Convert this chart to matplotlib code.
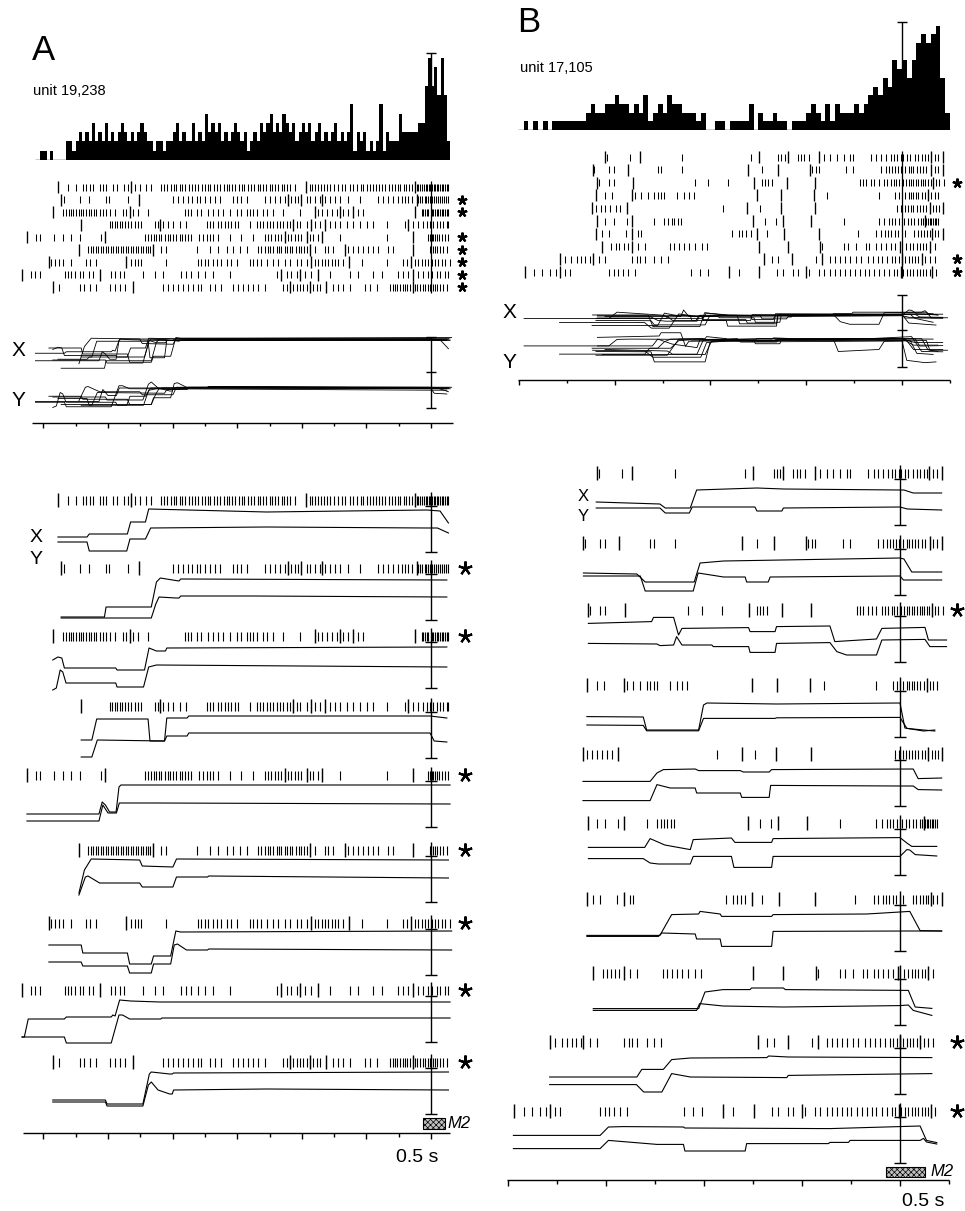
import numpy as np
import matplotlib
matplotlib.use("Agg")
import matplotlib.pyplot as plt
from matplotlib.patches import Rectangle

# ---------------------------------------------------------------------------
# data, panel A (unit 19,238); times in ms relative to M2, eye position in deg
# ---------------------------------------------------------------------------
A_HIST_START = -1.22  # s, left edge of first bin
A_HIST_BIN = 0.01     # s
A_HIST = [0, 1, 1, 0, 1, 0, 0, 0, 0, 2, 2, 1, 2, 3, 2, 3, 2, 4, 2, 3,
          2, 4, 2, 3, 2, 3, 4, 3, 2, 3, 2, 3, 4, 3, 2, 2, 1, 2, 2, 1,
          2, 2, 3, 4, 2, 3, 2, 2, 4, 2, 3, 2, 5, 3, 4, 3, 4, 2, 3, 2,
          3, 4, 3, 2, 3, 1, 2, 3, 2, 4, 3, 4, 5, 3, 4, 3, 5, 4, 3, 4,
          2, 3, 4, 3, 4, 2, 3, 4, 2, 3, 2, 3, 4, 2, 3, 2, 3, 6, 1, 3,
          2, 3, 1, 2, 1, 2, 6, 1, 3, 2, 2, 2, 5, 3, 3, 3, 3, 3, 4, 4,
          8, 11, 8, 10, 7, 11, 7, 2]

A_SPIKES = [
    [-1124, -1098, -1078, -1069, -1057, -1047, -1026, -1016, -1007, -985, -972, -952, -938, -917, -902, -881,
     -866, -835, -826, -818, -806, -797, -789, -778, -770, -761, -748, -740, -731, -722, -709, -700, -690,
     -683, -672, -661, -652, -640, -633, -624, -615, -606, -594, -585, -578, -566, -557, -548, -537, -530,
     -519, -510, -500, -492, -483, -474, -462, -455, -447, -437, -421, -375, -367, -358, -350, -341, -332,
     -323, -313, -300, -289, -276, -265, -252, -240, -229, -218, -210, -199, -190, -181, -170, -160, -151,
     -142, -130, -121, -112, -103, -95, -85, -76, -68, -60, -44, -39, -33, -28, -22, -17, -12, -7, -2, 3, 8,
     13, 18, 23, 28, 33, 38, 44, 49, 54],
    [-1135, -1088, -1059, -1007, -997, -938, -799, -783, -768, -752, -739, -726, -714, -700, -685, -669, -654,
     -613, -600, -587, -571, -515, -499, -483, -468, -452, -432, -421, -411, -385, -375, -360, -344, -329,
     -313, -297, -282, -256, -220, -163, -148, -132, -117, -101, -91, -80, -70, -60, -39, -33, -27, -20, -14,
     -8, -2, 4, 10, 16, 22, 28, 35, 41, 47, 54],
    [-1140, -1129, -1121, -1114, -1107, -1098, -1091, -1083, -1076, -1067, -1059, -1052, -1044, -1036, -1026,
     -1016, -1005, -995, -979, -954, -943, -923, -907, -876, -762, -752, -742, -726, -711, -690, -675, -659,
     -644, -623, -602, -587, -571, -561, -551, -540, -520, -509, -489, -458, -406, -349, -339, -323, -308,
     -292, -272, -256, -225, -210, -29, -24, -18, -13, -8, 2, 7, 13, 18, 23, 28, 33, 38, 44, 49, 54],
    [-995, -987, -979, -972, -964, -956, -948, -938, -928, -917, -907, -897, -855, -845, -830, -814, -799,
     -778, -757, -695, -685, -675, -659, -649, -638, -628, -618, -607, -597, -561, -540, -530, -520, -509,
     -499, -489, -478, -468, -458, -447, -437, -416, -406, -385, -360, -344, -313, -297, -282, -261, -241,
     -220, -199, -179, -137, -80, -55, -39, -24, -13, -3, 7, 18, 28, 38, 49, 54],
    [-1222, -1212, -1166, -1140, -1114, -1088, -1021, -886, -876, -866, -859, -850, -842, -835, -825, -814,
     -807, -799, -788, -778, -770, -762, -752, -742, -718, -706, -695, -685, -675, -659, -623, -587, -551,
     -515, -504, -494, -483, -473, -463, -442, -432, -421, -411, -401, -375, -365, -349, -282, -137, -8, -3,
     2, 7, 13, 18, 26, 33, 44, 54],
    [-1062, -1054, -1047, -1038, -1031, -1023, -1016, -1007, -1000, -992, -985, -976, -969, -961, -954, -945,
     -938, -930, -923, -914, -907, -899, -892, -883, -876, -869, -835, -819, -726, -685, -659, -633, -613,
     -592, -571, -535, -525, -515, -504, -497, -489, -478, -470, -463, -452, -445, -437, -429, -418, -408,
     -401, -394, -385, -360, -329, -318, -303, -256, -241, -225, -210, -194, -179, -163, -132, -117, -3, 5,
     13, 20, 28, 38, 49],
    [-1176, -1165, -1152, -1140, -1114, -1067, -1057, -1036, -928, -917, -907, -897, -819, -721, -711, -700,
     -690, -675, -664, -649, -633, -618, -600, -561, -551, -540, -525, -509, -489, -473, -452, -437, -416,
     -401, -385, -360, -349, -339, -329, -318, -308, -297, -287, -272, -215, -137, -86, -75, -49, -39, -29,
     -18, -8, 2, 13, 23, 33, 44, 59],
    [-1238, -1227, -1212, -1134, -1124, -1114, -1103, -1088, -1078, -1059, -1047, -990, -979, -964, -952,
     -892, -855, -830, -773, -757, -742, -721, -700, -675, -623, -478, -447, -432, -416, -391, -370, -313,
     -251, -225, -179, -153, -101, -86, -70, -39, -24, -8, 2, 18, 28, 44, 54],
    [-1152, -1088, -1073, -1057, -1036, -995, -979, -964, -948, -830, -814, -799, -783, -768, -752, -737,
     -721, -711, -685, -669, -649, -613, -597, -582, -566, -551, -535, -515, -458, -447, -427, -416, -406,
     -396, -385, -365, -354, -344, -303, -287, -272, -251, -204, -189, -168, -127, -119, -112, -104, -96,
     -88, -80, -73, -65, -49, -42, -34, -26, -18, -10, -3, 5, 13, 20, 28, 38, 49],
]
A_EVENTS = [
    [-1155, -928, -387, -49],
    [-1145, -904, -442, -401, -339, -44],
    [-1171, -933, -360, -282, -241, -49],
    [-1083, -840, -427, -370, -329, -70],
    [-1251, -1010, -452, -385, -339, -55],
    [-1090, -861, -375, -267, -57],
    [-1183, -945, -373, -253, -63],
    [-1266, -1026, -463, -406, -349, -57],
    [-1171, -923, -437, -375, -325, -57],
]
A_X = [
    [(-1155, 1.5), (-1065, 1.5), (-1058, 3), (-940, 3), (-930, 9), (-884, 9), (-874, 15.5), (-509, 14),
     (-13, 15), (28, 14.5), (54, 8.5)],
    [(-1145, -4.5), (-1011, -4.5), (-1006, 0.5), (-866, 0.5), (-850, 13), (-838, 15), (-800, 14),
     (-780, 13.5), (-775, 14.5), (49, 14)],
    [(-1171, 8), (-1155, 9.5), (-1143, 9), (-1135, 4), (-976, 4), (-972, 3), (-887, 3), (-873, 14),
     (-850, 12.5), (-822, 12.5), (-818, 14), (49, 14.5)],
    [(-1083, 3), (-1050, 3), (-1035, 13.5), (-876, 13.5), (-870, 2.5), (-825, 2.5), (-818, 14), (-755, 14),
     (-750, 15), (-3, 15), (49, 14)],
    [(-1251, 0.5), (-1028, 0.5), (-1018, 6.5), (-1008, 5), (-995, 1.5), (-975, 1.5), (-966, 14), (-960, 15),
     (59, 15)],
    [(-1090, -1.5), (-1073, 10), (-1052, 15.5), (-902, 15), (-894, 12), (-799, 11.5), (-788, 15.5), (54, 15)],
    [(-1183, 9), (-1083, 9), (-1078, 5), (-940, 5), (-933, -0.5), (-866, -0.5), (-859, 3.5), (-806, 3.5),
     (-790, 16), (-775, 15.5), (64, 16)],
    [(-1266, -3.5), (-1259, -3.5), (-1247, 5.5), (-1135, 5.5), (-1129, 6.5), (-990, 6.5), (-985, 7.5),
     (-978, 7), (-964, 15), (-930, 14.5), (-840, 14), (59, 14)],
    [(-1171, 1), (-1008, 1), (-1003, -1), (-892, -1), (-872, 14), (-866, 15), (-809, 14), (-801, 14),
     (-797, 14.5), (54, 15)],
]
A_Y = [
    [(-1155, -1), (-1065, -1), (-1058, -5.5), (-942, -5.5), (-932, 0.5), (-884, 0.5), (-868, 6), (-509, 6.5),
     (-13, 6), (20, 6), (54, 3.5)],
    [(-1145, -5), (-866, -5), (-852, 2), (-842, 5.5), (-790, 5), (-780, 5), (-775, 6), (-551, 6), (49, 5.5)],
    [(-1171, -7), (-1160, -6), (-1148, 3), (-1140, 2), (-1130, -3.5), (-976, -3.5), (-972, -5.5), (-890, -5.5),
     (-874, 4.5), (-850, 5.5), (49, 4.5)],
    [(-1083, -5.5), (-1050, -5.5), (-1033, 3), (-825, 2.5), (-818, 5), (-755, 5), (-750, 6.5), (-3, 6.5),
     (10, 2.5), (49, 2)],
    [(-1251, -3), (-1028, -3), (-1016, 5), (-1000, 1), (-974, 1), (-965, 6), (-850, 6), (59, 5.5)],
    [(-1090, -2.5), (-1070, 6.5), (-1062, 7), (-1026, 3.5), (-902, 3.5), (-894, 1.5), (-799, 1.5), (-788, 6.5),
     (-692, 6.5), (-688, 7), (54, 6)],
    [(-1183, 0.5), (-1083, 0.5), (-1078, -1.5), (-940, -1.5), (-933, -5), (-866, -5), (-859, -0.5),
     (-806, -0.5), (-795, 9), (-785, 9.5), (-757, 6.5), (-692, 6.5), (-688, 7), (64, 6.5)],
    [(-1266, -3.5), (-1135, -3.5), (-1129, -6.5), (-990, -6.5), (-966, 7.5), (-955, 7.5), (-933, 5.5),
     (-837, 5.5), (-833, 6), (59, 6)],
    [(-1171, 0), (-1008, 0), (-1003, -2), (-892, -2), (-875, 8.5), (-866, 10), (-845, 6), (-809, 4), (-801, 4),
     (-797, 6), (-509, 6.5), (54, 6)],
]
A_STAR = [False, True, True, False, True, True, True, True, True]

# ---------------------------------------------------------------------------
# data, panel B (unit 17,105)
# ---------------------------------------------------------------------------
B_HIST_START = -0.80
B_HIST_BIN = 0.01
B_HIST = [0, 1, 0, 1, 0, 1, 0, 1, 1, 1, 1, 1, 1, 1, 2, 3, 2, 2, 3, 3,
          4, 3, 3, 2, 3, 2, 4, 1, 2, 3, 2, 4, 3, 3, 2, 2, 2, 1, 2, 0,
          0, 1, 1, 0, 1, 1, 1, 1, 3, 0, 2, 1, 1, 2, 1, 1, 0, 1, 1, 1,
          2, 3, 2, 1, 3, 1, 3, 2, 2, 2, 3, 2, 3, 4, 5, 4, 6, 5, 8, 7,
          8, 6, 8, 10, 11, 10, 11, 12, 6, 2]

B_SPIKES = [
    [-615, -568, -459, -316, -258, -252, -245, -218, -211, -204, -194, -163, -150, -136, -122, -109, -102,
     -65, -54, -44, -34, -24, -17, -10, -3, 3, 10, 17, 27, 34, 41, 48, 55, 68, 75],
    [-643, -612, -602, -510, -503, -459, -292, -187, -180, -173, -116, -102, -44, -34, -27, -20, -14, -8, -3,
     1, 7, 14, 19, 24, 31, 37, 44, 51, 68, 75],
    [-632, -612, -602, -432, -405, -364, -292, -286, -279, -272, -88, -82, -75, -65, -58, -48, -37, -31, -24,
     -17, -12, -7, -1, 3, 8, 14, 19, 24, 29, 34, 40, 44, 49, 55, 60, 71, 78, 88],
    [-619, -605, -558, -544, -530, -517, -510, -503, -496, -469, -456, -445, -435, -156, -48, -14, -7, 0, 7,
     14, 19, 24, 29, 34, 41, 48, 61, 68, 75],
    [-639, -629, -619, -609, -598, -588, -374, -296, -10, -3, 1, 7, 12, 18, 24, 31, 37, 44, 51, 65, 71, 78],
    [-619, -602, -575, -517, -496, -488, -481, -475, -468, -461, -286, -264, -122, -48, -37, -27, -20, -14,
     -7, -1, 5, 12, 19, 26, 33, 40, 44, 51, 55, 58, 61, 65, 68, 71, 75],
    [-626, -612, -577, -552, -545, -355, -341, -333, -325, -316, -282, -92, -54, -44, -35, -29, -22, -15, -8,
     -1, 7, 26, 33, 40, 46, 53, 58, 68, 75],
    [-607, -598, -590, -581, -573, -551, -537, -484, -476, -466, -456, -445, -432, -418, -407, -167, -122,
     -112, -95, -75, -68, -54, -44, -34, -24, -14, 1, 8, 17, 24, 31, 37, 44, 51, 68],
    [-704, -690, -679, -670, -661, -651, -632, -619, -564, -554, -547, -537, -517, -503, -488, -272, -258,
     -180, -150, -139, -129, -119, -109, -95, -85, -71, -61, -51, -41, -31, -20, -14, -7, 7, 14, 20, 27, 34,
     48, 58, 68],
    [-768, -751, -734, -722, -704, -694, -612, -602, -593, -583, -571, -558, -441, -422, -405, -340, -262,
     -248, -228, -218, -194, -173, -163, -150, -139, -129, -119, -109, -99, -88, -78, -68, -58, -48, -37,
     -27, -17, -10, 3, 10, 17, 24, 31, 37, 44, 51, 58, 72],
]
B_EVENTS = [
    [-619, -547, -299, -238, -173, 60, 85],
    [-646, -573, -322, -258, -192, 61, 85],
    [-636, -561, -309, -241, -182, 65],
    [-638, -564, -303, -252, -184, 55],
    [-647, -575, -323, -253, -182, 58, 85],
    [-636, -564, -311, -248, -190, 48],
    [-638, -564, -303, -247, -173, 63, 85],
    [-626, -563, -299, -239, -171, -5, 58],
    [-715, -646, -289, -229, -167, 0, 41],
    [-787, -714, -362, -298, -201, -3, 63],
]
B_Y = [
    [(-620, 5.5), (-490, 4.5), (-479, 2.5), (-428, 2.5), (-415, 11.5), (-292, 12.5), (-238, 12), (0, 11.5),
     (8, 11.5), (27, 10), (85, 10)],
    [(-646, 5), (-537, 4.5), (-520, 0.5), (-420, 0.5), (-408, 10), (-360, 11), (0, 12.5), (8, 12), (24, 5.5),
     (85, 5.5)],
    [(-636, 13.3), (-507, 14.2), (-503, 16.3), (-462, 16.3), (-452, 7.5), (-445, 10.8), (-309, 11.2),
     (-306, 9.2), (-255, 9.2), (-252, 11.7), (-143, 12), (-133, 4.2), (-48, 5.5), (-37, 10.8), (51, 11.3),
     (58, 5), (95, 5)],
    [(-639, 4.2), (-524, 4), (-517, -2.5), (-411, -2.5), (-401, 10), (-394, 11), (-252, 10.5), (0, 11),
     (10, -1.5), (48, -3), (71, -2.5)],
    [(-647, 6.3), (-510, 6.3), (-496, 10.5), (-483, 12.2), (-418, 12.5), (-411, 11.7), (-326, 11.7),
     (-320, 11), (-267, 11), (-262, 12.2), (27, 12.5), (37, 7.7), (85, 8)],
    [(-636, 7.8), (-521, 7.8), (-510, 12.2), (-480, 9), (-428, 6.7), (-422, 11.7), (-344, 12.5), (-337, 10.3),
     (-262, 10.3), (-259, 12.2), (0, 12.7), (14, 10), (24, 8.3), (75, 8.3)],
    [(-639, 1.8), (-490, 1.8), (-466, 12.2), (-411, 12.5), (-408, 13.8), (-367, 12.5), (-364, 11.3),
     (-262, 11.3), (-259, 12.2), (-68, 12.5), (20, 13.8), (41, 4.2), (85, 4)],
    [(-626, 2.2), (-411, 2.2), (-398, 10.5), (-361, 11.7), (-306, 11.7), (-303, 12.5), (-238, 12.5),
     (-234, 11.7), (17, 11.3), (31, 3), (65, 2.3)],
    [(-715, 2.5), (-537, 2.5), (-527, 6.3), (-483, 6.3), (-466, 11.2), (-428, 12), (-272, 12.2), (-268, 13),
     (-228, 12.5), (65, 12.2)],
    [(-789, 7.8), (-612, 7.8), (-595, 12), (-565, 12.2), (-442, 12), (-439, 11.5), (-143, 11.2), (41, 12.5),
     (54, 5.3), (75, 4.2)],
]
B_X = [
    [(-620, 2.5), (-490, 2.5), (-479, 0), (-430, 0), (-424, 3), (-296, 3), (-292, 1), (-241, 1), (-238, 2.5),
     (0, 3), (15, 2), (85, 1.5)],
    [(-646, 3.5), (-530, 3.5), (-520, -4), (-422, -4), (-412, 5), (-360, 3), (-316, 3), (-313, 0.5),
     (-269, 0.5), (-265, 3), (0, 3.5), (7, 1.5), (85, 1.5)],
    [(-636, 3.3), (-496, 3), (-490, 2.2), (-462, 2.5), (-456, 6.7), (-445, 2.5), (-384, 2.5), (-381, 1.7),
     (-309, 1.7), (-306, -1.2), (-255, -1.2), (-252, 3.3), (-143, 3.7), (-129, -0.8), (-109, -2.5),
     (-48, -2.5), (-37, 5), (51, 5.3), (61, 1.7), (95, 1.7)],
    [(-639, 0), (-524, -0.2), (-517, -2.9), (-411, -2.9), (-401, 3.3), (-255, 3.3), (-252, 3.6), (0, 3.8),
     (14, -1.7), (48, -2.5), (71, -3)],
    [(-647, -3.3), (-510, -3.3), (-496, 4.7), (-469, 3), (-418, 3), (-415, 0.5), (-326, 0.5), (-323, -1.7),
     (-267, -1.7), (-264, 4.3), (0, 4), (27, 4), (37, 2.2), (85, 2)],
    [(-636, 2.2), (-524, 2.2), (-510, 0), (-493, -0.5), (-428, -0.5), (-422, 3.3), (-344, 3.3), (-339, -2.2),
     (-262, -2.2), (-259, 3.3), (0, 3.3), (14, 6.7), (20, 6.5), (31, 4.2), (75, 3.5)],
    [(-639, 1.3), (-493, 1.3), (-486, 3), (-418, 2.5), (-415, 0), (-367, 0), (-364, -3.7), (-262, -3.7),
     (-259, 3.8), (20, 4), (41, 4), (85, 4)],
    [(-626, 1.3), (-415, 1.3), (-409, 4.7), (-361, 3.5), (-238, 3), (0, 3.7), (17, 4), (27, 1.3), (65, -1.2)],
    [(-715, -1.3), (-538, -1.3), (-523, -5), (-486, -5), (-466, 4.2), (-428, 2.5), (-231, 2.2), (-228, 3.3),
     (65, 4.2)],
    [(-789, 1.2), (-612, 1.2), (-595, 5.3), (-496, 3.3), (-442, 3.3), (-439, 0), (-316, 0), (-313, 3.7),
     (-146, 3.7), (-143, 4.3), (-105, 4.3), (-102, 5.3), (41, 5.3), (48, 6.3), (54, 4.5), (75, 3.5)],
]
B_STAR = [False, False, True, False, False, False, False, False, True, True]

# ---------------------------------------------------------------------------
# layout (figure pixels)
# ---------------------------------------------------------------------------
W, H = 965, 1211
EYE_OFF, EYE_PX = 40, 2.0          # trial traces: px below spike row, px per deg
STAR = (5, 2, 0)                   # five-armed asterisk marker

plt.rcParams["font.family"] = ["Liberation Sans", "DejaVu Sans"]
plt.rcParams["hatch.color"] = "0.35"
plt.rcParams["hatch.linewidth"] = 0.5
fig = plt.figure(figsize=(W / 100, H / 100), dpi=100)


def add_ax(left, right, top, bottom, align, pps, ylim=None):
    ax = fig.add_axes([left / W, 1 - bottom / H, (right - left) / W, (bottom - top) / H])
    ax.set_xlim((left - align) / pps, (right - align) / pps)
    ax.set_ylim(ylim if ylim is not None else (bottom, top))
    ax.axis("off")
    ax.patch.set_alpha(0)
    return ax


def fig_text(x, y, s, **kw):
    fig.text(x / W, 1 - y / H, s, **kw)


def xy(trace):
    t, v = zip(*trace)
    return np.asarray(t) / 1000.0, np.asarray(v)


def raster(ax, rows, spikes, events, h, h_ev, lw=0.8):
    for row, spk, ev in zip(rows, spikes, events):
        ax.vlines(np.asarray(spk) / 1000.0, row - h / 2, row + h / 2, color="k", lw=lw)
        ax.vlines(np.asarray(ev) / 1000.0, row - h_ev / 2, row + h_ev / 2, color="k", lw=lw * 1.3)


def stars(ax, x, rows, flags, size):
    ys = [r for r, f in zip(rows, flags) if f]
    ax.plot([x] * len(ys), ys, ls="none", marker=STAR, ms=size, mec="k", mew=1.6, clip_on=False)


def time_axis(ax, y, t0, t1, ticks, major, minor):
    ax.hlines(y, t0, t1, color="k", lw=1.0)
    for k in ticks:
        ax.vlines(k / 10.0, y, y + (major if k % 2 == 0 else minor), color="k", lw=1.0)


def scale_bar(ax, y_top, y_bot, caps, half):
    ax.vlines(0, y_top, y_bot, color="k", lw=1.0)
    ax.hlines(caps, -half, half, color="k", lw=1.0)


def histogram(ax, start, binw, counts, t0, t1, bar_top, half):
    edges = start + binw * np.arange(len(counts))
    ax.bar(edges, counts, width=binw, align="edge", color="k", linewidth=0)
    ax.hlines(0, t0, t1, color="k", lw=1.0)
    scale_bar(ax, 0, bar_top, [bar_top], half)


def panel(spec, hist, spikes, events, upper, lower, flags, upper_name, lower_name):
    # histogram
    pps, al = spec["pps_top"], spec["align_top"]
    axh = add_ax(spec["left"], spec["right"], spec["hist_top"], spec["hist_base"], al, pps,
                 ylim=(0, (spec["hist_base"] - spec["hist_top"]) / spec["px_per_count"]))
    histogram(axh, hist[0], hist[1], hist[2], (spec["hist_x0"] - al) / pps, (spec["hist_x1"] - al) / pps,
              spec["hist_bar"], 5 / pps)

    # summary raster, overlaid eye traces, time axis
    axt = add_ax(spec["left"], spec["right"], 140, 440, al, pps)
    rows = [spec["ras_y0"] + spec["ras_dy"] * i for i in range(len(spikes))]
    raster(axt, rows, spikes, events, 7, 12, lw=0.75)
    axt.vlines(0, rows[0] - 6, rows[-1] + 6, color="k", lw=0.9)
    stars(axt, (spec["star_x"] - al) / pps, rows, flags, 7)
    axo = add_ax(spec["ovl_x0"], spec["ovl_x1"], spec["ovl_top"], spec["ovl_bot"], al, pps)
    for trials, name in ((upper, upper_name), (lower, lower_name)):
        zero, sc = spec["ovl_zero"][name], spec["ovl_px"]
        for tr in trials:
            t, v = xy(tr)
            axo.plot(t, zero - sc * v, color="k", lw=0.6)
    b0, b1, b2 = spec["ovl_bar"]
    scale_bar(axt, b0, b2, [b0, b1, b2], 5 / pps)
    time_axis(axt, spec["ax_top_y"], (spec["ax_top_x0"] - al) / pps, (spec["ax_top_x1"] - al) / pps,
              spec["ticks"], 5, 3)

    # single trials
    pps, al = spec["pps_tr"], spec["align_tr"]
    axr = add_ax(spec["left"], spec["right"], 440, H, al, pps)
    trows = spec["trial_rows"]
    raster(axr, trows, spikes, events, 9, 14, lw=0.8)
    for row, up, lo in zip(trows, upper, lower):
        for tr in (up, lo):
            t, v = xy(tr)
            axr.plot(t, row + EYE_OFF - EYE_PX * v, color="k", lw=0.8)
        scale_bar(axr, row - 8, row + 52, [row + 6, row + 52], 6 / pps)
    stars(axr, (spec["tstar_x"] - al) / pps, trows, flags, 10)
    time_axis(axr, spec["ax_bot_y"], (spec["ax_bot_x0"] - al) / pps, (spec["ax_bot_x1"] - al) / pps,
              spec["ticks"], 6, 4)
    m0, m1, my0, my1 = spec["m2_box"]
    axr.add_patch(Rectangle(((m0 - al) / pps, my0), (m1 - m0) / pps, my1 - my0, facecolor="0.75",
                            edgecolor="k", lw=0.8, hatch="xxxxxx"))


SPEC_A = dict(left=0, right=480, align_top=431, pps_top=323, align_tr=431, pps_tr=323,
              hist_top=40, hist_base=160, px_per_count=9.3, hist_x0=35, hist_x1=449, hist_bar=11.5,
              ras_y0=187, ras_dy=12.5, star_x=462,
              ovl_x0=35, ovl_x1=458, ovl_top=320, ovl_bot=420, ovl_zero={"X": 361.5, "Y": 397}, ovl_px=1.5,
              ovl_bar=(337, 372, 408), ax_top_y=423, ax_top_x0=32, ax_top_x1=453,
              ticks=range(-12, 1), trial_rows=[500, 568, 636, 706, 775, 850, 923, 990, 1062], tstar_x=465,
              ax_bot_y=1133, ax_bot_x0=23, ax_bot_x1=450, m2_box=(423, 445, 1118, 1129))
SPEC_B = dict(left=490, right=965, align_top=902, pps_top=479, align_tr=900, pps_tr=490,
              hist_top=10, hist_base=130, px_per_count=8.7, hist_x0=518, hist_x1=950, hist_bar=12.4,
              ras_y0=157, ras_dy=12.8, star_x=957,
              ovl_x0=505, ovl_x1=962, ovl_top=280, ovl_bot=385, ovl_zero={"X": 320.4, "Y": 358}, ovl_px=1.55,
              ovl_bar=(295, 330, 367), ax_top_y=380, ax_top_x0=518, ax_top_x1=950,
              ticks=range(-8, 2), trial_rows=[473, 543, 610, 685, 754, 823, 899, 973, 1042, 1111], tstar_x=957,
              ax_bot_y=1180, ax_bot_x0=507, ax_bot_x1=949, m2_box=(886, 925, 1167, 1177))

panel(SPEC_A, (A_HIST_START, A_HIST_BIN, A_HIST), A_SPIKES, A_EVENTS, A_X, A_Y, A_STAR, "X", "Y")
panel(SPEC_B, (B_HIST_START, B_HIST_BIN, B_HIST), B_SPIKES, B_EVENTS, B_Y, B_X, B_STAR, "Y", "X")

# text
fig_text(32, 51, "A", fontsize=25, va="center", ha="left")
fig_text(517, 23, "B", fontsize=25, va="center", ha="left")
fig_text(33, 91, "unit 19,238", fontsize=10.5, va="center", ha="left")
fig_text(520, 68, "unit 17,105", fontsize=10.5, va="center", ha="left")
for x, y, s, fs in [(18, 351, "X", 15), (18, 401, "Y", 15), (36, 537, "X", 14), (36, 560, "Y", 14),
                    (509, 312, "X", 15), (509, 362, "Y", 15), (583, 496, "X", 12), (583, 516, "Y", 12)]:
    fig_text(x, y, s, fontsize=fs, ha="center", va="center")
fig_text(417, 1157, "0.5 s", fontsize=14, ha="center", va="center")
fig_text(923, 1201, "0.5 s", fontsize=14, ha="center", va="center")
fig_text(447, 1124, "M2", fontsize=12, style="italic", ha="left", va="center")
fig_text(930, 1172, "M2", fontsize=12, style="italic", ha="left", va="center")

fig.savefig("out.png", dpi=100, facecolor="white")
